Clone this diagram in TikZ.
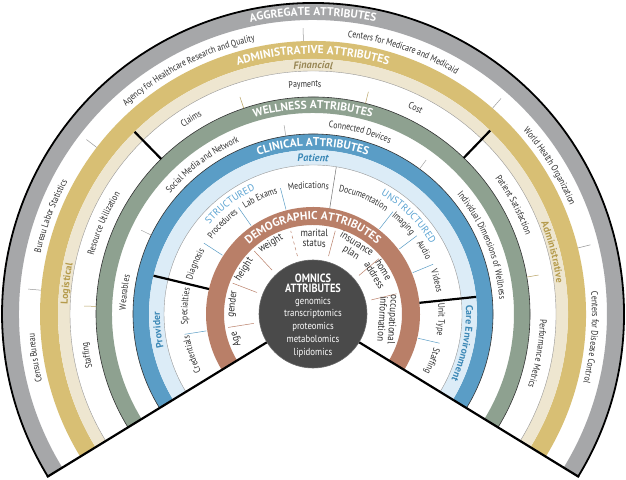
\documentclass[tikz,border=0pt]{standalone}
\usepackage{fontspec}
\setmainfont{PT Sans}
\setsansfont{PT Sans}
\newfontfamily\rkCond{PT Sans}[FakeStretch=0.86]
\newfontfamily\rkNarrow{PT Sans}[FakeStretch=0.82]
\newfontfamily\rkSpaced{PT Sans}[LetterSpace=12]
\usetikzlibrary{decorations.text}
\definecolor{aggGray}{HTML}{A6A7A9}
\definecolor{admGold}{HTML}{D8BF74}
\definecolor{admLight}{HTML}{EEE6D0}
\definecolor{admText}{HTML}{B59B4C}
\definecolor{finText}{HTML}{998856}
\definecolor{welGreen}{HTML}{8EA190}
\definecolor{cliBlue}{HTML}{5A9DC6}
\definecolor{cliLight}{HTML}{DCECF7}
\definecolor{cliText}{HTML}{3C88B6}
\definecolor{strText}{HTML}{5AA3D2}
\definecolor{demBrown}{HTML}{B97F68}
\definecolor{omnGray}{HTML}{4A4A4A}
\definecolor{itemText}{HTML}{2E2E2E}
\def\rkA{31.5}
\newcommand\rkBand[3]{\fill[#1] (-\rkA:#3pt) arc[start angle=-\rkA,end angle=180+\rkA,radius=#3pt] -- (180+\rkA:#2pt) arc[start angle=180+\rkA,end angle=-\rkA,radius=#2pt] -- cycle;}
\newcommand\rkRing[2]{\draw[#1] (-\rkA:#2pt) arc[start angle=-\rkA,end angle=180+\rkA,radius=#2pt];}
\newcommand\rkTick[4]{\draw[#1] (#2:#3pt) -- (#2:#4pt);}
\newcommand\rkText[4]{\path[decorate,decoration={text along path,text align=center,text={|#3|#4}}] (#1+80:#2pt) arc[start angle=#1+80,end angle=#1-80,radius=#2pt];}
\newcommand\rkItemF{\color{itemText}\rkNarrow\fontsize{9.5}{11}\selectfont}
\newcommand\rkHeadF{\color{white}\bfseries\fontsize{11.5}{13}\selectfont}
\newcommand\rkSubF[1]{\color{#1}\bfseries\itshape\fontsize{10.4}{12}\selectfont}
\newcommand\rkSideF[1]{\color{#1}\bfseries\fontsize{10}{12}\selectfont}
\newcommand\rkStrF{\color{strText}\rkSpaced\fontsize{9.8}{10}\selectfont}
\tikzset{
  aggtick/.style={draw=black!40,line width=0.5pt},
  admtick/.style={draw=admGold!85!black,line width=0.5pt},
  weltick/.style={draw=black!35,line width=0.5pt},
  clitick/.style={draw=cliBlue,line width=0.5pt},
  demtick/.style={draw=demBrown,line width=0.5pt},
  divider/.style={draw=black,line width=2.2pt},
  demo/.style={text=itemText,font=\rkCond\fontsize{10.5}{10.5}\selectfont,align=center,inner sep=0pt},
  omT/.style={text=white,font=\rkCond\bfseries\fontsize{12}{12}\selectfont,anchor=base,inner sep=0pt},
  omL/.style={text=white,font=\rkCond\fontsize{10.2}{10}\selectfont,anchor=base,inner sep=0pt}
}
\begin{document}
\begin{tikzpicture}
\useasboundingbox[fill=white] (-313pt,-165pt) rectangle (313pt,314pt);
% bands
\rkBand{aggGray}{294}{311}
\rkBand{admGold}{255}{273}
\rkBand{admLight}{243}{255}
\rkBand{welGreen}{201}{217}
\rkBand{cliBlue}{164}{180}
\rkBand{cliLight}{149}{164}
\rkBand{demBrown}{89}{107}
% ring lines
\rkRing{line width=1.8pt,black}{311}
\rkRing{line width=0.4pt,black!40}{243}
\rkRing{line width=0.6pt,black!80}{217}
\rkRing{line width=0.6pt,black!80}{180}
\rkRing{line width=0.4pt,black!40}{149}
% ticks aggregate
\rkTick{aggtick}{92}{273}{286}
\rkTick{aggtick}{48.9}{273}{286}
\rkTick{aggtick}{14}{273}{286}
\rkTick{aggtick}{142.4}{273}{286}
\rkTick{aggtick}{175}{273}{286}
% ticks administrative
\rkTick{admtick}{108.6}{217}{229}
\rkTick{admtick}{76}{217}{229}
\rkTick{admtick}{178}{217}{229}
\rkTick{admtick}{9.8}{217}{229}
% ticks wellness
\rkTick{weltick}{98.7}{180}{191}
\rkTick{weltick}{53.7}{180}{191}
\rkTick{weltick}{154}{180}{191}
% ticks clinical
\rkTick{clitick}{147}{108}{130}
\rkTick{clitick}{125}{108}{130}
\rkTick{clitick}{104.5}{108}{130}
\rkTick{clitick}{52}{108}{130}
\rkTick{clitick}{37}{108}{130}
\rkTick{clitick}{22.5}{108}{130}
\rkTick{clitick}{189}{108}{130}
\rkTick{clitick}{-13}{108}{130}
\rkTick{draw=black!55,line width=0.5pt}{81}{107}{149}
% ticks demographic
\rkTick{demtick}{189}{60}{86}
\rkTick{demtick}{159}{60}{86}
\rkTick{demtick}{133}{60}{86}
\rkTick{demtick,dashed}{105}{60}{86}
\rkTick{demtick}{75}{60}{86}
\rkTick{demtick}{40}{60}{86}
\rkTick{demtick}{13.6}{60}{86}
% dividers
\rkTick{divider}{134.4}{217}{255}
\rkTick{divider}{46}{217}{255}
\rkTick{divider}{166.5}{107}{164}
\rkTick{divider}{6}{107}{164}
\rkTick{divider}{-\rkA}{54}{312}
\rkTick{divider}{180+\rkA}{54}{312}
% centre
\node[circle,fill=omnGray,draw=black!60,line width=0.6pt,minimum size=108pt,inner sep=0pt] (omnics) at (0,0) {};
\node[omT] (om1) at (0,31pt) {OMNICS};
\node[omT] (om2) at (0,22pt) {ATTRIBUTES};
\node[omL] (om3) at (0,10pt) {genomics};
\node[omL] (om4) at (0,-2.8pt) {transcriptomics};
\node[omL] (om5) at (0,-15.6pt) {proteomics};
\node[omL] (om6) at (0,-28.4pt) {metabolomics};
\node[omL] (om7) at (0,-41.2pt) {lipidomics};
% demographic items
\node[demo,rotate=108] (dAge) at (198:81pt) {Age};
\node[demo,rotate=83] (dGender) at (173:81pt) {gender};
\node[demo,rotate=57] (dHeight) at (147:82pt) {height};
\node[demo,rotate=31] (dWeight) at (121:82pt) {weight};
\node[demo,rotate=-1] (dMarital) at (89:76pt) {marital\\status};
\node[demo,rotate=-32] (dIns) at (58:77pt) {insurance\\plan};
\node[demo,rotate=-58] (dHome) at (32:78pt) {home\\address};
\node[demo,rotate=-94] (dOcc) at (-4:75pt) {occupational\\information};
% headers
\rkText{90}{298.5}{\rkHeadF}{AGGREGATE ATTRIBUTES}
\rkText{90}{260}{\rkHeadF}{ADMINISTRATIVE ATTRIBUTES}
\rkText{90}{205}{\rkHeadF}{WELLNESS ATTRIBUTES}
\rkText{90}{168}{\rkHeadF}{CLINICAL ATTRIBUTES}
\rkText{90}{94.5}{\rkHeadF}{DEMOGRAPHIC ATTRIBUTES}
% sub labels
\rkText{90}{245.3}{\rkSubF{finText}}{Financial}
\rkText{173}{245.5}{\rkSideF{admText}}{Logistical}
\rkText{14.5}{245.5}{\rkSideF{admText}}{Administrative}
\rkText{90}{152.8}{\rkSubF{cliText}}{Patient}
\rkText{186}{153}{\rkSideF{cliText}}{Provider}
\rkText{-11}{153}{\rkSideF{cliText}}{Care Environment}
\rkText{127}{137}{\rkStrF}{STRUCTURED}
\rkText{45.5}{137}{\rkStrF}{UNSTRUCTURED}
% aggregate items
\rkText{117}{279}{\rkItemF}{Agency for Healthcare Research and Quality}
\rkText{71}{279}{\rkItemF}{Centers for Medicare and Medicaid}
\rkText{32}{279}{\rkItemF}{World Health Organization}
\rkText{-4.8}{279}{\rkItemF}{Centers for Disease Control}
\rkText{159.5}{279}{\rkItemF}{Bureau Labor Statistics}
\rkText{189}{279}{\rkItemF}{Census Bureau}
% administrative items
\rkText{92}{227}{\rkItemF}{Payments}
\rkText{122}{227}{\rkItemF}{Claims}
\rkText{63.5}{227}{\rkItemF}{Cost}
\rkText{156.6}{227}{\rkItemF}{Resource Utilization}
\rkText{190.4}{227}{\rkItemF}{Staffing}
\rkText{28.5}{227}{\rkItemF}{Patient Satisfaction}
\rkText{-10}{227}{\rkItemF}{Performance Metrics}
% wellness items
\rkText{75.5}{187}{\rkItemF}{Connected Devices}
\rkText{126.5}{187}{\rkItemF}{Social Media and Network}
\rkText{22}{187}{\rkItemF}{Individual Dimensions of Wellness}
\rkText{173.5}{187}{\rkItemF}{Wearables}
% clinical items
\rkText{157}{125.5}{\rkItemF}{Diagnosis}
\rkText{135}{125.5}{\rkItemF}{Procedures}
\rkText{114.5}{125.5}{\rkItemF}{Lab Exams}
\rkText{92}{125.5}{\rkItemF}{Medications}
\rkText{66.5}{125.5}{\rkItemF}{Documentation}
\rkText{45}{125.5}{\rkItemF}{Imaging}
\rkText{30}{125.5}{\rkItemF}{Audio}
\rkText{15}{125.5}{\rkItemF}{Videos}
\rkText{176.5}{125.5}{\rkItemF}{Specialties}
\rkText{198.5}{125.5}{\rkItemF}{Credentials}
\rkText{-2.5}{125.5}{\rkItemF}{Unit Type}
\rkText{-21.5}{125.5}{\rkItemF}{Staffing}
\end{tikzpicture}
\end{document}
